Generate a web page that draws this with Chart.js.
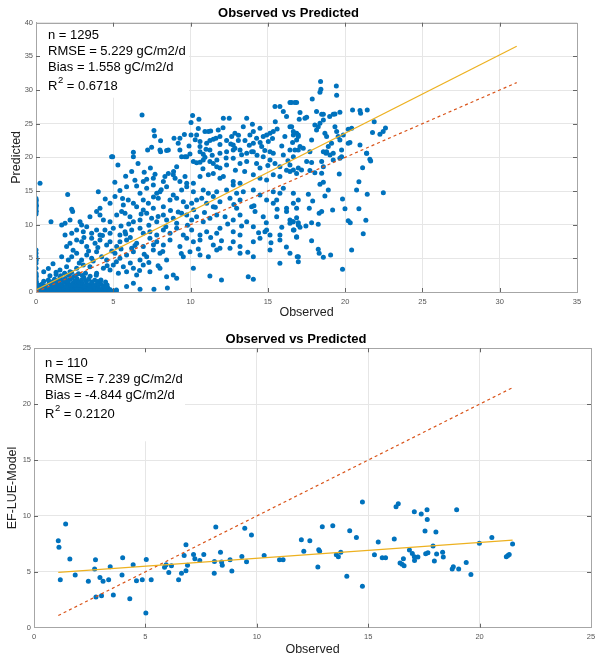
<!DOCTYPE html>
<html>
<head>
<meta charset="utf-8">
<script src="https://cdn.jsdelivr.net/npm/chart.js@4"></script>
<style>
  body { margin: 0; background: #fff; }
  canvas { position: absolute; left: 0; }
</style>
</head>
<body>
<canvas id="topChart" width="595" height="325" style="top:0px"></canvas>
<canvas id="bottomChart" width="595" height="334" style="top:325px"></canvas>
<script>
// ---- data: [observed, predicted] ----

// dense cluster at the origin (upper panel)
const topBlob = [
  [0.05,0.1],[0.2,0.05],[0.35,0.15],[0.5,0.05],[0.6,0.2],[0.75,0.1],[0.9,0.05],[1.0,0.25],[1.15,0.1],[1.3,0.05],
  [1.4,0.2],[1.55,0.1],[1.7,0.05],[1.85,0.2],[2.0,0.1],[2.15,0.05],[2.3,0.2],[2.45,0.1],[2.6,0.05],[2.75,0.15],
  [2.9,0.1],[3.05,0.05],[3.2,0.2],[3.35,0.1],[3.5,0.05],[3.65,0.15],[3.8,0.1],[3.95,0.05],[4.1,0.15],[4.25,0.1],
  [4.4,0.05],[4.55,0.2],[4.7,0.1],[4.85,0.05],[5.0,0.1],[5.2,0.2],
  [0.1,0.5],[0.3,0.6],[0.45,0.4],[0.65,0.7],[0.8,0.45],[0.95,0.6],[1.1,0.8],[1.25,0.5],[1.45,0.65],[1.6,0.4],
  [1.75,0.75],[1.9,0.55],[2.05,0.4],[2.2,0.7],[2.35,0.5],[2.5,0.8],[2.65,0.45],[2.8,0.65],[2.95,0.4],[3.1,0.75],
  [3.25,0.5],[3.4,0.6],[3.55,0.4],[3.7,0.7],[3.85,0.45],[4.0,0.6],[4.15,0.35],[4.3,0.55],[4.5,0.4],[4.65,0.6],[4.8,0.35],
  [0.2,1.0],[0.4,1.2],[0.6,0.9],[0.85,1.3],[1.0,1.05],[1.2,1.35],[1.35,0.95],[1.5,1.2],[1.65,1.0],[1.8,1.4],
  [1.95,0.9],[2.1,1.25],[2.25,1.05],[2.4,1.35],[2.55,0.95],[2.7,1.2],[2.85,1.0],[3.0,1.3],[3.15,0.9],[3.3,1.15],
  [3.45,1.0],[3.6,1.25],[3.75,0.9],[3.9,1.1],[4.05,0.95],[4.2,1.2],[4.4,0.9],[4.6,1.05],
  [0.5,1.6],[0.8,1.8],[1.0,1.5],[1.2,1.9],[1.4,1.6],[1.55,2.1],[1.7,1.7],[1.9,2.0],[2.05,1.55],[2.2,1.85],
  [2.35,2.15],[2.5,1.65],[2.65,1.95],[2.8,1.5],[2.95,1.8],[3.1,2.1],[3.25,1.6],[3.4,1.9],[3.6,1.5],[3.8,1.75],
  [4.0,1.55],[4.2,1.8],[4.5,1.5],
  [0.9,2.4],[1.3,2.6],[1.6,2.4],[1.85,2.8],[2.1,2.5],[2.3,2.9],[2.55,2.4],[2.75,2.7],[3.0,2.45],[3.2,2.8],
  [3.5,2.35],[3.9,2.5],[0.5,3.0],[0.8,3.5],[1.1,4.2],[1.3,2.95],
  [5.2,0.3],[5.86,0.8],[6.73,0.4],[7.63,0.4],[6.3,1.3],[8.5,0.6]
];

// points stacked on observed = 0
const topZeroColumn = [
  [0,0.3],[0.02,0.7],[0,1.1],[0.03,1.5],[0,1.9],[0.02,2.3],[0,2.6],[0.05,0.9],
  [0,2.77],[0,3.52],[0,4.26],[0.02,4.75],[0,5.25],[0,5.75],[0,6.24],
  [0,11.6],[0.02,12.0],[0,12.4],[0.03,12.8],[0,13.2],[0.02,13.6],[0,13.9],[0.26,16.15]
];

// main cloud, observed 0-17
const topCloud = [
  [4.89,20.1],[8.02,21.1],[8.56,21.1],[9.31,21.1],[9.64,20.1],[9.96,20.5],[10.61,20.85],[11.25,21.1],[11.9,20.6],
  [12.33,20.85],[12.76,21.1],[13.63,20.6],[14.06,20.85],[14.7,20.1],[15.35,20.6],[16.0,20.35],[16.65,20.1],
  [5.3,18.87],[6.3,20.1],[9.1,18.6],[9.42,20.1],[10.18,19.37],[10.39,19.2],[10.61,19.27],[10.82,19.6],[10.93,20.0],
  [11.25,19.37],[11.47,19.1],[11.69,18.6],[11.9,18.4],[12.33,18.87],[12.76,19.86],[13.2,19.1],[13.63,19.37],
  [14.27,19.1],[14.49,18.4],[15.14,19.6],[15.46,19.1],[15.78,18.6],[16.21,18.1],[16.43,18.87],[16.97,18.4],
  [6.19,17.9],[6.94,16.4],[7.16,16.74],[7.59,16.9],[7.7,17.5],[8.24,16.4],[8.34,17.14],[8.56,17.6],[8.88,17.4],
  [9.31,16.4],[9.64,17.14],[9.75,16.15],[10.18,16.15],[10.61,17.14],[11.15,17.4],[11.47,17.6],[11.9,16.9],
  [12.12,17.14],[12.76,16.4],[13.2,16.15],[14.06,17.4],[14.49,16.9],[14.92,16.64],[15.35,17.4],[15.78,17.14],[16.86,17.6],
  [2.05,14.5],[4.03,14.9],[4.48,13.8],[5.43,15.06],[5.86,15.65],[6.51,15.75],[6.73,14.66],[7.16,15.4],[7.59,15.9],
  [7.81,14.66],[8.02,14.9],[8.45,15.65],[8.88,14.4],[9.42,15.16],[9.75,15.65],[10.18,14.9],[10.82,15.16],[11.15,14.66],
  [11.47,14.17],[11.69,14.9],[12.33,15.16],[12.76,15.9],[12.98,14.66],[13.41,14.9],[14.06,15.16],[14.49,14.4],
  [15.35,14.9],[15.78,14.66],[16.0,15.4],[16.65,14.66],
  [2.31,12.28],[2.37,11.94],[4.14,12.43],[4.79,13.17],[5.11,14.17],[5.65,12.93],[5.97,13.67],[6.3,13.17],[6.51,12.68],
  [6.94,13.67],[7.27,13.17],[7.59,12.43],[7.91,13.92],[8.24,12.68],[8.67,13.67],[9.1,13.92],[9.53,13.42],[9.75,12.68],
  [10.07,13.17],[10.39,13.67],[10.72,13.92],[11.04,13.17],[11.47,12.68],[11.9,13.42],[12.55,13.92],[12.98,12.43],
  [13.2,13.67],[13.95,12.68],[14.17,11.94],[14.92,13.67],[15.35,13.17],[15.57,13.67],[16.21,12.43],[16.65,13.17],[16.97,13.67],
  [0.97,10.45],[1.66,9.96],[1.88,10.2],[2.2,10.7],[2.85,10.45],[2.95,9.96],[3.49,11.19],[3.92,11.94],[4.14,11.44],
  [4.36,10.7],[4.79,10.45],[5.22,11.44],[5.54,11.94],[5.76,11.69],[6.08,11.19],[6.3,10.45],[6.73,10.7],[6.94,12.18],
  [7.16,11.69],[7.48,10.95],[7.81,10.45],[8.24,11.44],[8.45,10.7],[8.88,10.95],[9.1,10.2],[9.42,11.69],[9.75,11.44],
  [10.07,10.7],[10.39,11.19],[10.82,10.45],[11.25,10.95],[11.69,11.44],[12.23,11.19],[12.76,10.7],[13.2,11.44],
  [13.63,10.45],[14.7,11.19],[14.92,9.21],[15.57,11.19],[16.21,11.94],[16.43,10.7],[16.65,10.45],[16.97,9.96],
  [1.88,8.47],[2.31,8.72],[2.63,9.21],[3.06,8.96],[3.28,9.71],[3.6,8.72],[3.92,9.21],[4.14,8.47],[4.46,9.21],
  [4.79,8.72],[5.0,9.46],[5.43,8.47],[5.76,8.96],[6.19,9.21],[6.73,9.46],[6.94,8.72],[7.37,8.96],[7.81,8.47],
  [8.24,9.21],[8.67,8.72],[9.1,9.46],[9.53,8.47],[10.07,9.21],[10.61,8.47],[11.04,8.96],[11.69,8.72],[11.9,9.46],
  [12.76,8.96],[13.2,8.47],[14.06,9.71],[14.81,8.96],[15.14,8.47],[15.78,8.47],[16.65,9.21],[16.86,8.22],
  [1.98,6.74],[2.2,7.23],[2.63,7.73],[2.95,7.48],[3.28,6.74],[3.6,7.97],[3.82,7.23],[4.14,7.73],[4.57,6.98],
  [4.79,7.48],[5.22,6.74],[5.43,7.48],[5.86,7.73],[6.19,6.49],[6.51,7.23],[6.94,6.74],[7.37,7.97],[7.81,7.48],
  [8.24,6.98],[8.67,7.73],[9.31,6.74],[9.75,7.97],[10.18,7.48],[10.61,7.73],[11.47,6.98],[11.9,6.49],[12.76,7.48],
  [13.2,6.74],[14.06,7.48],[14.49,7.97],[15.78,7.73],
  [1.66,5.25],[2.09,4.75],[2.31,5.25],[2.63,5.75],[2.95,4.75],[3.28,5.5],[3.6,5.0],[3.92,5.99],[4.25,5.25],
  [4.57,4.75],[5.11,5.75],[5.43,5.0],[5.86,5.5],[6.3,5.99],[6.73,4.75],[7.16,5.25],[7.59,6.24],[8.02,5.75],
  [8.45,4.75],[9.53,5.25],[9.96,5.99],[10.61,5.5],[11.15,5.25],[11.69,6.24],[12.55,6.49],[13.2,5.75],[14.06,5.25],
  [15.14,6.24],[15.78,4.26],[16.43,5.75],[16.97,5.25],
  [1.55,3.27],[1.98,3.76],[2.2,3.02],[2.63,3.52],[3.06,4.01],[3.49,3.76],[3.92,2.77],[4.36,3.52],[4.79,3.27],
  [5.0,4.01],[5.33,2.77],[5.65,3.76],[5.86,3.02],[6.3,3.52],[6.51,2.53],[6.94,4.01],[7.37,3.02],[8.02,3.52],
  [8.45,2.28],[8.88,2.53],[9.1,2.03],[10.18,3.52],[11.25,2.38],[12.0,1.78],[13.73,2.28],[14.06,1.88]
];

// points filling the denser parts of the cloud
const topCloudFill = [
  [5.1,16.3],[5.6,13.9],[6.0,10.1],[6.4,16.6],[6.8,11.6],[7.0,17.8],[7.3,9.9],[7.6,14.1],[7.9,11.2],[8.1,15.2],
  [8.4,9.7],[8.7,12.1],[9.0,16.9],[9.2,11.9],[8.9,17.9],[7.4,18.4],[6.6,19.1],[5.8,17.2],[5.5,9.8],[6.1,8.1],
  [9.2,22.1],[9.6,23.4],[9.9,21.7],[10.3,22.6],[10.5,24.3],[10.8,18.3],[11.0,21.2],[11.3,23.9],[11.4,20.3],[11.7,19.6],
  [11.9,21.9],[12.1,24.4],[12.3,19.9],[12.6,22.0],[12.9,18.1],[13.1,23.3],[13.3,20.4],[13.5,17.9],[13.8,21.8],[14.0,24.9],
  [14.3,20.3],[14.5,22.2],[14.8,21.0],[15.0,18.8],[15.3,22.8],[15.6,24.2],[15.9,21.7],[16.1,23.1],[16.3,19.5],[16.6,22.2],
  [2.4,6.2],[2.8,4.3],[3.1,8.1],[3.4,6.1],[3.7,4.6],[4.0,6.6],[4.3,8.4],[4.6,3.9],[4.9,6.1],[5.2,4.5],
  [5.5,6.4],[5.8,8.6],[6.1,4.3],[6.4,6.9],[6.7,3.2],[7.0,5.6],[7.3,4.4],[7.6,7.0],[7.9,3.9],[8.2,6.0],
  [9.4,5.7],[9.8,9.9],[10.2,12.2],[10.5,6.4],[10.9,11.8],[11.3,8.1],[11.6,12.6],[12.0,7.6],[12.4,10.1],[12.8,13.0],
  [13.3,9.8],[13.7,5.9],[14.1,12.8],[14.4,8.8],[14.9,10.3],[15.2,7.3],[15.6,12.3],[15.9,9.6],[16.2,6.7]
];

// upper band, observed 5-17, predicted 20-28
const topUpper = [
  [4.96,20.1],[6.3,20.75],[6.86,26.3],[7.22,21.1],[7.48,21.5],[7.63,23.97],[7.67,23.18],[8.06,22.48],[8.06,20.85],
  [8.45,21.0],[8.93,22.83],[9.31,22.83],[9.75,20.1],[10.03,25.16],[10.13,26.2],[10.54,25.66],[10.03,23.33],
  [10.39,23.33],[10.61,22.34],[10.61,21.6],[10.82,20.46],[11.04,22.1],[11.25,22.5],[11.47,22.7],[11.64,22.83],
  [11.79,24.07],[11.9,23.08],[12.12,25.8],[12.5,25.8],[12.33,22.5],[12.66,23.08],[12.76,21.84],[12.87,21.35],
  [13.09,22.5],[13.2,21.1],[13.41,24.56],[13.63,25.8],[14.06,23.83],[14.27,22.83],[14.49,24.32],[14.7,23.08],
  [14.92,23.33],[15.03,22.34],[15.14,23.58],[15.35,23.83],[15.48,25.3],[15.78,27.54],[15.46,27.54],[16.0,26.8],
  [16.21,26.05],[16.54,28.14],[16.75,28.14],[16.43,24.56],[16.65,23.83],[16.86,22.58],[16.97,23.33],
  [10.93,23.83],[11.15,23.83],[12.87,23.58],[13.52,22.5],[13.84,23.33],[14.06,22.1],[14.6,21.6],[15.14,20.85],[13.95,20.85]
];

// right part, observed 16-22.6
const topRight = [
  [16.43,28.14],[16.86,28.14],[17.87,28.68],[18.41,31.25],[18.43,30.11],[18.37,29.66],[19.43,30.6],[19.45,29.22],
  [18.15,26.8],[18.48,26.4],[18.59,26.4],[17.08,26.65],[17.03,25.66],[17.4,25.8],[17.51,25.95],[19.0,26.05],
  [19.23,26.4],[19.34,26.45],[19.66,26.7],[20.48,27.04],[20.96,26.95],[21.0,26.55],[21.43,27.04],[21.88,25.27],
  [21.77,23.68],[22.25,23.43],[22.46,23.83],[22.61,24.37],[20.2,24.17],[20.42,24.32],[20.31,22.2],[20.2,22.1],
  [20.96,21.84],[21.39,20.6],[21.6,19.7],
  [16.54,24.56],[16.65,23.33],[16.86,23.58],[16.97,23.08],[17.08,21.6],[17.29,21.35],[17.72,20.85],[17.83,22.58],
  [18.04,24.81],[18.15,24.07],[18.26,24.56],[18.37,25.06],[18.59,25.55],[18.69,23.58],[18.8,23.08],[18.91,21.6],
  [19.12,22.1],[19.23,20.6],[19.34,24.56],[19.45,23.83],[19.55,23.08],[19.66,22.58],[19.77,20.1],[19.88,23.33],
  [18.59,20.85],[18.76,20.6],
  [16.43,21.1],[16.75,21.1],[16.97,21.1],[17.51,19.37],[17.83,19.22],[18.48,19.37],[18.8,20.85],[19.02,20.36],
  [19.23,19.61],[19.77,21.1],[19.66,19.86],[16.43,17.88],[16.65,18.13],[17.18,18.13],[17.72,18.03],[18.04,17.73],
  [18.48,17.63],[18.59,18.62],[21.39,20.6],[21.65,19.46],[21.13,18.47],[19.62,17.53],[20.89,16.39],[20.74,15.16],
  [21.43,14.51],[22.47,14.76],[18.37,16.0],[18.59,16.29],[18.91,15.16],[18.69,14.26],[17.62,14.51],[17.9,13.52],
  [19.83,13.82],[17.68,12.43],[16.86,12.43],[19.99,12.38],[20.89,12.38],[19.19,12.18],[18.32,11.69],[18.48,11.94],
  [16.43,10.2],[16.6,10.45],[16.86,11.04],[16.97,10.3],[17.08,9.61],[16.69,9.21],[17.46,9.81],[17.83,10.3],
  [18.26,10.05],[20.2,10.6],[20.33,10.3],[21.34,10.65],[21.17,8.67],[16.86,8.12],[17.83,7.63],[18.26,6.34],
  [18.32,5.75],[18.59,5.15],[19.06,5.5],[16.9,5.25],[16.97,4.5],[20.42,6.24],[19.83,3.37]
];

// lower panel
const bottomPoints = [
  [1.09,7.78],[1.12,7.19],[1.42,9.28],[1.18,4.29],[1.61,6.15],[1.85,4.71],[2.44,4.15],[2.72,5.25],[2.76,6.08],
  [2.78,2.75],[2.96,4.5],[3.1,4.15],[3.03,2.86],[3.35,4.29],[3.42,5.46],[3.56,2.92],[3.95,4.71],[3.98,6.26],
  [4.45,5.64],[4.3,2.6],[4.6,4.2],[4.86,4.29],[5.04,6.1],[5.02,1.31],[5.26,4.29],[5.86,5.4],[5.93,5.64],[6.05,4.95],
  [6.17,5.55],[6.49,4.29],[6.62,4.87],[6.74,6.47],[6.82,7.42],[6.82,5.1],[6.89,5.58],[7.16,6.55],[7.22,6.17],
  [7.44,6.02],[7.62,6.56],[8.1,5.93],[8.09,4.87],[8.16,9.0],[8.37,6.74],[8.42,5.87],[8.45,5.58],[8.8,6.08],
  [8.88,5.07],[9.33,6.38],[9.46,8.89],[9.54,5.9],[9.76,8.29],[10.33,6.47],[11.02,6.08],[11.18,6.08],
  [12.0,7.87],[12.11,6.83],[12.38,7.78],[12.74,5.43],[12.78,6.98],[12.82,6.83],[12.94,9.04],[13.41,9.12],
  [13.57,6.53],[13.66,6.35],[13.77,6.74],[14.04,4.6],[14.17,8.68],[14.47,8.06],[14.74,11.24],[14.74,3.7],
  [15.28,6.53],[15.45,7.67],[15.63,6.26],[15.78,6.26],[16.17,7.93],[16.25,10.82],[16.35,11.09],[16.43,5.79],
  [16.52,5.67],[16.61,5.55],[16.58,6.17],[16.85,6.95],[16.98,6.65],[17.07,10.38],[17.07,6.35],[17.08,6.02],
  [17.23,6.32],[17.38,10.17],[17.55,8.65],[17.58,6.62],[17.64,10.56],[17.65,9.69],[17.68,6.71],[17.91,7.31],
  [17.97,5.96],[18.04,8.56],[18.07,6.59],[18.34,6.74],[18.37,6.32],[18.77,5.25],[18.82,5.46],[18.97,10.56],
  [19.06,5.25],[19.4,5.84],[19.61,4.77],[19.99,7.55],[20.55,8.06],[21.2,6.35],[21.27,6.47],[21.33,6.56],[21.48,7.49]
];

// fitted line and 1:1 line end points
const topFitX = [0, 31.1];
const topFitY = [0.3, 36.5];
const topOneToOne = [0, 31.1];
const bottomFitX = [1.09, 21.48];
const bottomFitY = [4.95, 7.84];
const bottomOneToOne = [1.09, 21.48];

const topStats = ['n = 1295', 'RMSE = 5.229 gC/m2/d', 'Bias = 1.558 gC/m2/d', 'R^2 = 0.6718'];
const bottomStats = ['n = 110', 'RMSE = 7.239 gC/m2/d', 'Bias = -4.844 gC/m2/d', 'R^2 = 0.2120'];

const FONT = '"Liberation Sans", Arial, Helvetica, sans-serif';
const BLUE = '#0072BD';
const YELLOW = '#EDB120';
const ORANGE = '#D95319';

const toXY = (pairs) => pairs.map(p => ({ x: p[0], y: p[1] }));

// box, inward ticks and stats text in the MATLAB way
const matlabAxes = {
  id: 'matlabAxes',
  beforeDatasetsDraw(chart, args, opts) {
    const { ctx, chartArea: a } = chart;
    ctx.save();
    ctx.fillStyle = '#fff';
    ctx.fillRect(a.left + 1, a.top + 1, opts.boxW, opts.boxH);
    ctx.restore();
  },
  afterDraw(chart, args, opts) {
    const { ctx, chartArea: a, scales } = chart;
    ctx.save();
    ctx.lineWidth = 1;
    ctx.strokeStyle = '#a6a6a6';
    ctx.strokeRect(Math.round(a.left) + 0.5, Math.round(a.top) + 0.5,
      Math.round(a.right - a.left), Math.round(a.bottom - a.top));

    ctx.strokeStyle = '#666';
    ctx.beginPath();
    scales.x.ticks.forEach(t => {
      const px = Math.round(scales.x.getPixelForValue(t.value)) + 0.5;
      if (px < a.left + 2 || px > a.right - 2) return;
      ctx.moveTo(px, a.bottom); ctx.lineTo(px, a.bottom - 4);
      ctx.moveTo(px, a.top); ctx.lineTo(px, a.top + 4);
    });
    scales.y.ticks.forEach(t => {
      const py = Math.round(scales.y.getPixelForValue(t.value)) + 0.5;
      if (py < a.top + 2 || py > a.bottom - 2) return;
      ctx.moveTo(a.left, py); ctx.lineTo(a.left + 4, py);
      ctx.moveTo(a.right, py); ctx.lineTo(a.right - 4, py);
    });
    ctx.stroke();

    ctx.fillStyle = '#000';
    ctx.textBaseline = 'middle';
    ctx.textAlign = 'left';
    opts.lines.forEach((line, i) => {
      const x0 = a.left + opts.dx;
      const y0 = a.top + opts.dy[i];
      ctx.font = '13px ' + FONT;
      if (line.indexOf('^') < 0) {
        ctx.fillText(line, x0, y0);
        return;
      }
      // R^2 with a raised 2
      const base = line.split('^')[0];
      const rest = line.split('^')[1].slice(1);
      ctx.fillText(base, x0, y0);
      let x = x0 + ctx.measureText(base).width;
      ctx.font = '9.5px ' + FONT;
      ctx.fillText('2', x + 0.5, y0 - 6);
      x += ctx.measureText('2').width + 0.5;
      ctx.font = '13px ' + FONT;
      ctx.fillText(rest, x, y0);
    });
    ctx.restore();
  }
};

const makeChart = (id, cfg) => {
  const tickFont = { family: FONT, size: 7.5 };
  return new Chart(document.getElementById(id), {
    type: 'scatter',
    data: {
      datasets: [
        {
          data: toXY([[cfg.fitX[0], cfg.fitY[0]], [cfg.fitX[1], cfg.fitY[1]]]),
          showLine: true, borderColor: YELLOW, borderWidth: 1.2, pointRadius: 0
        },
        {
          data: toXY([[cfg.one[0], cfg.one[0]], [cfg.one[1], cfg.one[1]]]),
          showLine: true, borderColor: ORANGE, borderWidth: 1.2, borderDash: [3, 3], pointRadius: 0
        },
        {
          data: toXY(cfg.points),
          pointRadius: 2.5, pointBorderWidth: 0, pointBackgroundColor: BLUE, backgroundColor: BLUE
        }
      ]
    },
    options: {
      responsive: false,
      animation: false,
      devicePixelRatio: 1,
      layout: { padding: { left: 0, right: cfg.padRight, top: 0, bottom: 0 } },
      plugins: {
        legend: { display: false },
        tooltip: { enabled: false },
        title: {
          display: true,
          text: 'Observed vs Predicted',
          color: '#000',
          font: { family: FONT, size: 13, weight: 'bold' },
          padding: cfg.titlePad
        },
        matlabAxes: { lines: cfg.stats, dx: cfg.textDx, dy: cfg.textDy, boxW: cfg.boxW, boxH: cfg.boxH }
      },
      scales: {
        x: {
          type: 'linear', min: 0, max: cfg.xMax,
          ticks: { stepSize: 5, color: '#555', font: tickFont, padding: 5, maxRotation: 0 },
          grid: { color: '#e6e6e6', drawTicks: false },
          border: { color: '#a6a6a6' },
          title: { display: true, text: 'Observed', color: '#222', font: { family: FONT, size: 12.5 }, padding: { top: 0, bottom: cfg.xTitlePad } },
          afterFit: (s) => { s.height = cfg.xHeight; s.paddingRight = 0; s.paddingLeft = 0; }
        },
        y: {
          type: 'linear', min: 0, max: cfg.yMax,
          ticks: { stepSize: 5, color: '#555', font: tickFont, padding: 3 },
          grid: { color: '#e6e6e6', drawTicks: false },
          border: { color: '#a6a6a6' },
          title: { display: true, text: cfg.yTitle, color: '#222', font: { family: FONT, size: 12.5 }, padding: { top: cfg.yTitlePad, bottom: 0 } },
          afterFit: (s) => { s.width = cfg.yWidth; }
        }
      }
    },
    plugins: [matlabAxes]
  });
};

makeChart('topChart', {
  points: [].concat(topBlob, topZeroColumn, topCloud, topCloudFill, topUpper, topRight),
  fitX: topFitX, fitY: topFitY, one: topOneToOne,
  stats: topStats, textDx: 12, textDy: [13, 29, 45, 64], boxW: 152, boxH: 74,
  xMax: 35, yMax: 40, yTitle: 'Predicted',
  padRight: 18, yWidth: 36, xHeight: 33,
  titlePad: { top: 5.5, bottom: 1.6 }, xTitlePad: 4.5, yTitlePad: 9
});

makeChart('bottomChart', {
  points: bottomPoints,
  fitX: bottomFitX, fitY: bottomFitY, one: bottomOneToOne,
  stats: bottomStats, textDx: 11, textDy: [14.7, 30.7, 46.7, 65.7], boxW: 150, boxH: 92,
  xMax: 25, yMax: 25, yTitle: 'EF-LUE-Model',
  padRight: 3, yWidth: 34, xHeight: 31.3,
  titlePad: { top: 6.5, bottom: 1.2 }, xTitlePad: 1.5, yTitlePad: 5
});
</script>
</body>
</html>
